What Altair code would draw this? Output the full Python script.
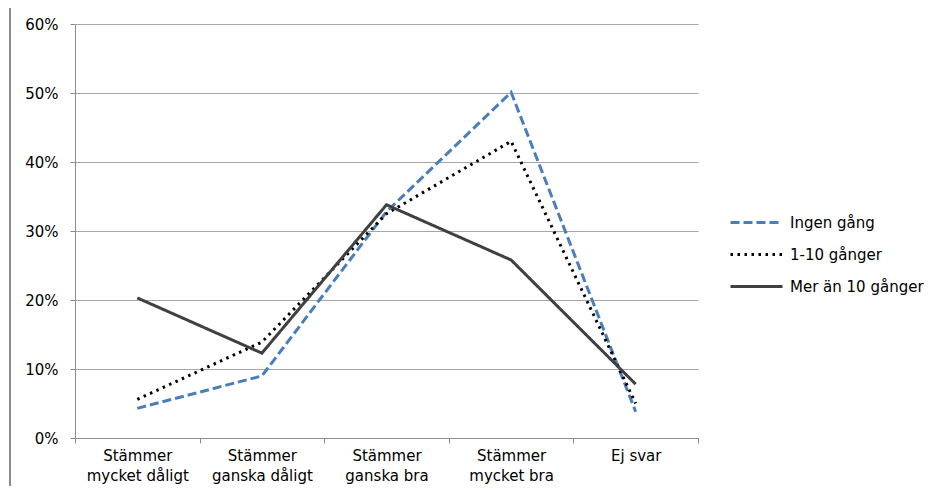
import altair as alt
import pandas as pd

categories = ["Stämmer mycket dåligt", "Stämmer ganska dåligt", "Stämmer ganska bra",
              "Stämmer mycket bra", "Ej svar"]
series = ["Ingen gång", "1-10 gånger", "Mer än 10 gånger"]
ingen = [0.043, 0.090, 0.328, 0.501, 0.038]
en_tio = [0.056, 0.139, 0.325, 0.430, 0.050]
mer_tio = [0.203, 0.123, 0.338, 0.258, 0.078]
y_ticks = [0, 0.1, 0.2, 0.3, 0.4, 0.5, 0.6]

rows = []
for s, vals in zip(series, [ingen, en_tio, mer_tio]):
    for i, (c, v) in enumerate(zip(categories, vals)):
        rows.append({"kat": c, "idx": i, "serie": s, "andel": v})
df = pd.DataFrame(rows)

FONT = "DejaVu Sans"

lines = alt.Chart(df).mark_line(strokeWidth=3, clip=False).encode(
    x=alt.X("kat:N", sort=categories, bandPosition=0.5,
            scale=alt.Scale(type="band", paddingInner=0, paddingOuter=0),
            axis=alt.Axis(title=None, labelAngle=0, tickBand="extent",
                          labelExpr="indexof(datum.label, 'Stämmer') == 0 ? [slice(datum.label, 0, 7), slice(datum.label, 8)] : datum.label",
                          labelLineHeight=20, labelPadding=5, tickSize=5,
                          domainColor="#8c8c8c", tickColor="#8c8c8c", grid=False)),
    y=alt.Y("andel:Q", scale=alt.Scale(domain=[0, 0.6], nice=False),
            axis=alt.Axis(title=None, format=".0%", values=y_ticks, tickSize=5,
                          labelPadding=12, domainColor="#8c8c8c", tickColor="#8c8c8c",
                          gridColor="#a6a6a6", gridWidth=1.2)),
    color=alt.Color("serie:N", sort=series,
                    scale=alt.Scale(domain=series, range=["#4a7ebb", "#000000", "#404040"]),
                    legend=alt.Legend(title=None, orient="none", legendX=667, legendY=184,
                                      symbolType="M-2,0H2", symbolSize=676,
                                      symbolStrokeWidth=3, rowPadding=9,
                                      labelFontSize=15, labelOffset=19)),
    strokeDash=alt.StrokeDash("serie:N", sort=series,
                              scale=alt.Scale(domain=series, range=[[9, 4], [2.5, 4.5], [1, 0]]),
                              legend=None),
    order=alt.Order("idx:Q"),
)

border = alt.Chart(pd.DataFrame({"a": [0]})).mark_rule(color="#8c8c8c", strokeWidth=2).encode(
    x=alt.value(-65), y=alt.value(-19), y2=alt.value(480))
border_top = alt.Chart(pd.DataFrame({"a": [0]})).mark_rule(color="#8c8c8c", strokeWidth=2).encode(
    x=alt.value(-65), x2=alt.value(900), y=alt.value(-19))

chart = alt.layer(border, border_top, lines).properties(
    width=623, height=414,
    padding={"left": 67, "top": 16, "right": 232, "bottom": 48},
    autosize=alt.AutoSizeParams(type="none"),
).configure_view(stroke=None).configure_axis(
    labelFont=FONT, labelFontSize=15, labelColor="#000000"
).configure_legend(labelFont=FONT, labelColor="#000000")

chart.save("out.html", embed_options={"renderer": "svg", "actions": False})
